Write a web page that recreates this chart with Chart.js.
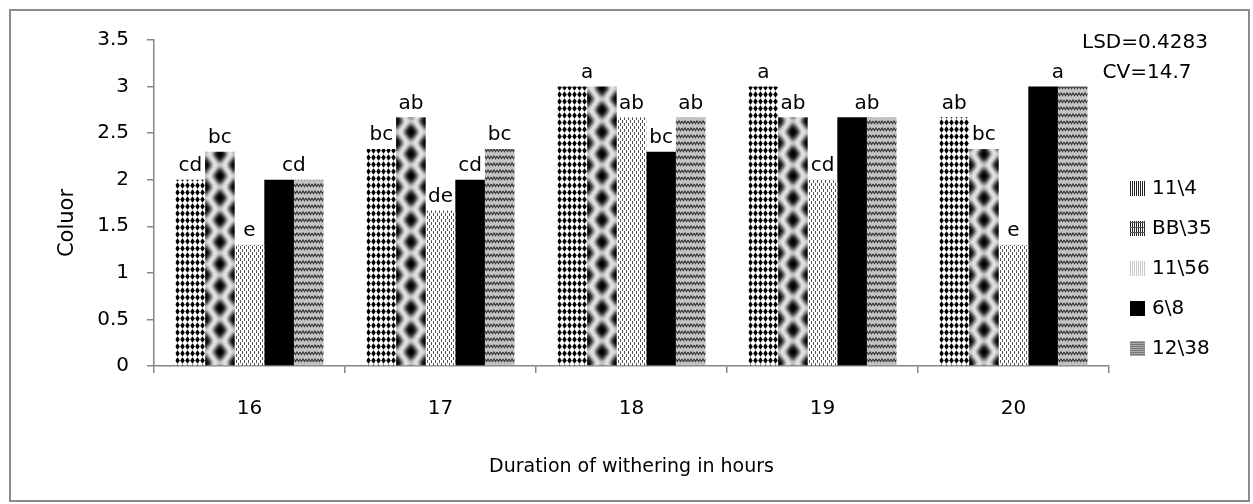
<!DOCTYPE html>
<html lang="en">
<head>
  <meta charset="UTF-8">
  <title>Coluor by withering duration</title>
  <style>
    html, body {
      margin: 0;
      padding: 0;
      background: white;
    }
    .wrap {
      position: relative;
      width: 1253px;
      height: 504px;
    }
  </style>
  <script src="https://cdn.jsdelivr.net/npm/chart.js"></script>
</head>
<body>
  <div class="wrap">
    <canvas id="colourChart" width="1253" height="504"></canvas>
  </div>

<script>
  // categories (hours of withering)
  const hours = ['16', '17', '18', '19', '20'];
  const clones = ['11\\4', 'BB\\35', '11\\56', '6\\8', '12\\38'];

  // colour scores per clone
  const score114 = [2, 2.33, 3, 3, 2.67];
  const scoreBB35 = [2.3, 2.67, 3, 2.67, 2.33];
  const score1156 = [1.3, 1.67, 2.67, 2, 1.3];
  const score68 = [2, 2, 2.3, 2.67, 3];
  const score1238 = [2, 2.33, 2.67, 2.67, 3];

  // significance letters per clone
  const letters114 = ['cd', 'bc', 'a', 'a', 'ab'];
  const lettersBB35 = ['bc', 'ab', 'a', 'ab', 'bc'];
  const letters1156 = ['e', 'de', 'ab', 'cd', 'e'];
  const letters68 = ['cd', 'cd', 'bc', 'ab', 'a'];
  const letters1238 = ['cd', 'bc', 'ab', 'ab', 'a'];

  const yTicks = [0, 0.5, 1, 1.5, 2, 2.5, 3, 3.5];
  const statLines = ['LSD=0.4283', 'CV=14.7'];

  const FONT = "'DejaVu Sans', sans-serif";
  const AXIS_GREY = '#868686';
  const GROUP_PCT = 0.775;

  function tile(w, h, draw) {
    const c = document.createElement('canvas');
    c.width = w;
    c.height = h;
    const g = c.getContext('2d');
    g.fillStyle = '#fff';
    g.fillRect(0, 0, w, h);
    draw(g, w, h);
    return c;
  }

  function diamond(g, cx, cy, rx, ry) {
    g.beginPath();
    g.moveTo(cx, cy - ry);
    g.lineTo(cx + rx, cy);
    g.lineTo(cx, cy + ry);
    g.lineTo(cx - rx, cy);
    g.closePath();
    g.fill();
  }

  // bar fills
  const smallDiamonds = tile(5, 7, (g) => {
    g.fillStyle = '#000';
    diamond(g, 2.5, 3.5, 2.3, 3.3);
  });

  const bigDiamonds = tile(30, 22, (g) => {
    g.filter = 'blur(2px)';
    g.fillStyle = '#e6e6e6';
    for (let x = -30; x <= 60; x += 30) {
      for (let y = -22; y <= 44; y += 22) {
        diamond(g, x, y, 6, 8);
        diamond(g, x + 15, y + 11, 6, 8);
      }
    }
    g.fillStyle = '#000';
    for (let x = -30; x <= 60; x += 30) {
      for (let y = -22; y <= 44; y += 22) {
        diamond(g, x + 15, y, 7.5, 9.5);
        diamond(g, x, y + 11, 7.5, 9.5);
      }
    }
  });

  const dashes = tile(4, 6, (g) => {
    g.fillStyle = '#555';
    g.fillRect(1, 0, 1, 3);
    g.fillRect(3, 3, 1, 3);
  });

  const waves = tile(6, 7, (g) => {
    g.fillStyle = '#c4c4c4';
    g.fillRect(0, 0, 6, 7);
    g.strokeStyle = '#3a3a3a';
    g.lineWidth = 1.2;
    g.beginPath();
    g.moveTo(0, 2);
    g.lineTo(1.5, 4.5);
    g.lineTo(3, 2);
    g.lineTo(4.5, 4.5);
    g.lineTo(6, 2);
    g.stroke();
  });

  // legend swatches
  const legVert = tile(2, 1, (g) => { g.fillStyle = '#222'; g.fillRect(0, 0, 1, 1); });
  const legBB = tile(2, 5, (g) => {
    g.fillStyle = '#222';
    g.fillRect(0, 0, 1, 5);
    g.fillStyle = '#555';
    g.fillRect(0, 2, 2, 1);
  });
  const legLight = tile(2, 1, (g) => { g.fillStyle = '#c8c8c8'; g.fillRect(0, 0, 1, 1); });
  const legGrey = tile(1, 2, (g) => { g.fillStyle = '#777'; g.fillRect(0, 0, 1, 1); g.fillStyle = '#aaa'; g.fillRect(0, 1, 1, 1); });

  const ctx = document.getElementById('colourChart').getContext('2d');

  // pattern anchored at the left edge of each bar, like the spreadsheet fills
  function barFill(src) {
    return (c) => {
      const xs = c.chart.scales.x;
      if (!xs || c.dataIndex === undefined) return '#888';
      const cw = xs.width / hours.length;
      const bw = cw * GROUP_PCT / clones.length;
      const left = xs.getPixelForValue(c.dataIndex) - cw * GROUP_PCT / 2 + c.datasetIndex * bw;
      const p = c.chart.ctx.createPattern(src, 'repeat');
      p.setTransform(new DOMMatrix([1, 0, 0, 1, Math.round(left), 0]));
      return p;
    };
  }

  const series = [
    { label: clones[0], data: score114, letters: letters114, fill: barFill(smallDiamonds), swatch: legVert },
    { label: clones[1], data: scoreBB35, letters: lettersBB35, fill: barFill(bigDiamonds), swatch: legBB },
    { label: clones[2], data: score1156, letters: letters1156, fill: barFill(dashes), swatch: legLight },
    { label: clones[3], data: score68, letters: letters68, fill: '#000', swatch: null },
    { label: clones[4], data: score1238, letters: letters1238, fill: barFill(waves), swatch: legGrey }
  ];

  const frame = {
    id: 'frame',
    beforeDraw(chart) {
      const g = chart.ctx;
      g.save();
      g.fillStyle = '#fff';
      g.fillRect(0, 0, chart.width, chart.height);
      g.strokeStyle = '#8c8c8c';
      g.lineWidth = 2;
      g.strokeRect(10, 10, 1239, 491);
      g.restore();
    }
  };

  // letters above bars; neighbours sharing a letter get one label
  const letterLabels = {
    id: 'letterLabels',
    afterDatasetsDraw(chart) {
      const g = chart.ctx;
      g.save();
      g.font = '20px ' + FONT;
      g.fillStyle = '#000';
      g.textAlign = 'center';
      g.textBaseline = 'bottom';
      hours.forEach((h, i) => {
        let d = 0;
        while (d < series.length) {
          let e = d;
          while (e + 1 < series.length && series[e + 1].letters[i] === series[d].letters[i]) e++;
          let xsum = 0, top = Infinity;
          for (let k = d; k <= e; k++) {
            const bar = chart.getDatasetMeta(k).data[i];
            xsum += bar.x;
            top = Math.min(top, bar.y);
          }
          g.fillText(series[d].letters[i], xsum / (e - d + 1), top - 4);
          d = e + 1;
        }
      });
      g.restore();
    }
  };

  const sideBox = {
    id: 'sideBox',
    afterDraw(chart) {
      const g = chart.ctx;
      const area = chart.chartArea;
      g.save();
      g.font = '20px ' + FONT;
      g.fillStyle = '#000';
      g.textAlign = 'center';
      g.textBaseline = 'middle';
      g.fillText(statLines[0], 1145, 43);
      g.fillText(statLines[1], 1147, 73);

      // y axis title, sitting a little below the middle as in the source
      g.save();
      g.translate(68, 223);
      g.rotate(-Math.PI / 2);
      g.font = '21px ' + FONT;
      g.fillText('Coluor', 0, 0);
      g.restore();

      g.textAlign = 'left';
      series.forEach((s, k) => {
        const cy = area.top + 148 + k * 40;
        const bx = area.right + 21;
        g.fillStyle = s.swatch ? g.createPattern(s.swatch, 'repeat') : '#000';
        g.fillRect(bx, cy - 7, 15, 15);
        g.fillStyle = '#000';
        g.fillText(s.label, bx + 22, cy + 1);
      });
      g.restore();
    }
  };

  const colourChart = new Chart(ctx, {
    type: 'bar',
    data: {
      labels: hours,
      datasets: series.map((s) => ({
        label: s.label,
        data: s.data,
        backgroundColor: s.fill,
        borderWidth: 0,
        barPercentage: 1,
        categoryPercentage: GROUP_PCT
      }))
    },
    options: {
      responsive: false,
      animation: false,
      layout: {
        padding: { left: 0, top: 40, right: 144, bottom: 0 }
      },
      plugins: {
        legend: { display: false },
        tooltip: { enabled: false }
      },
      scales: {
        x: {
          grid: {
            offset: true,
            drawOnChartArea: false,
            drawTicks: true,
            tickLength: 7,
            color: AXIS_GREY,
            lineWidth: 1.5
          },
          border: { color: AXIS_GREY, width: 1.5 },
          ticks: {
            color: '#000',
            font: { family: FONT, size: 20 },
            padding: 24
          },
          title: {
            display: true,
            text: 'Duration of withering in hours',
            color: '#000',
            font: { family: FONT, size: 19 },
            padding: { top: 0, bottom: 26 }
          },
          afterFit(scale) { scale.height = 138; }
        },
        y: {
          min: 0,
          max: 3.5,
          afterBuildTicks(scale) { scale.ticks = yTicks.map((v) => ({ value: v })); },
          grid: {
            drawOnChartArea: false,
            drawTicks: true,
            tickLength: 7,
            color: AXIS_GREY,
            lineWidth: 1.5
          },
          border: { color: AXIS_GREY, width: 1.5 },
          ticks: {
            color: '#000',
            font: { family: FONT, size: 20 },
            padding: 18,
            callback: (v) => String(v)
          },
          afterFit(scale) { scale.width = 154; }
        }
      }
    },
    plugins: [frame, letterLabels, sideBox]
  });
</script>
</body>
</html>
